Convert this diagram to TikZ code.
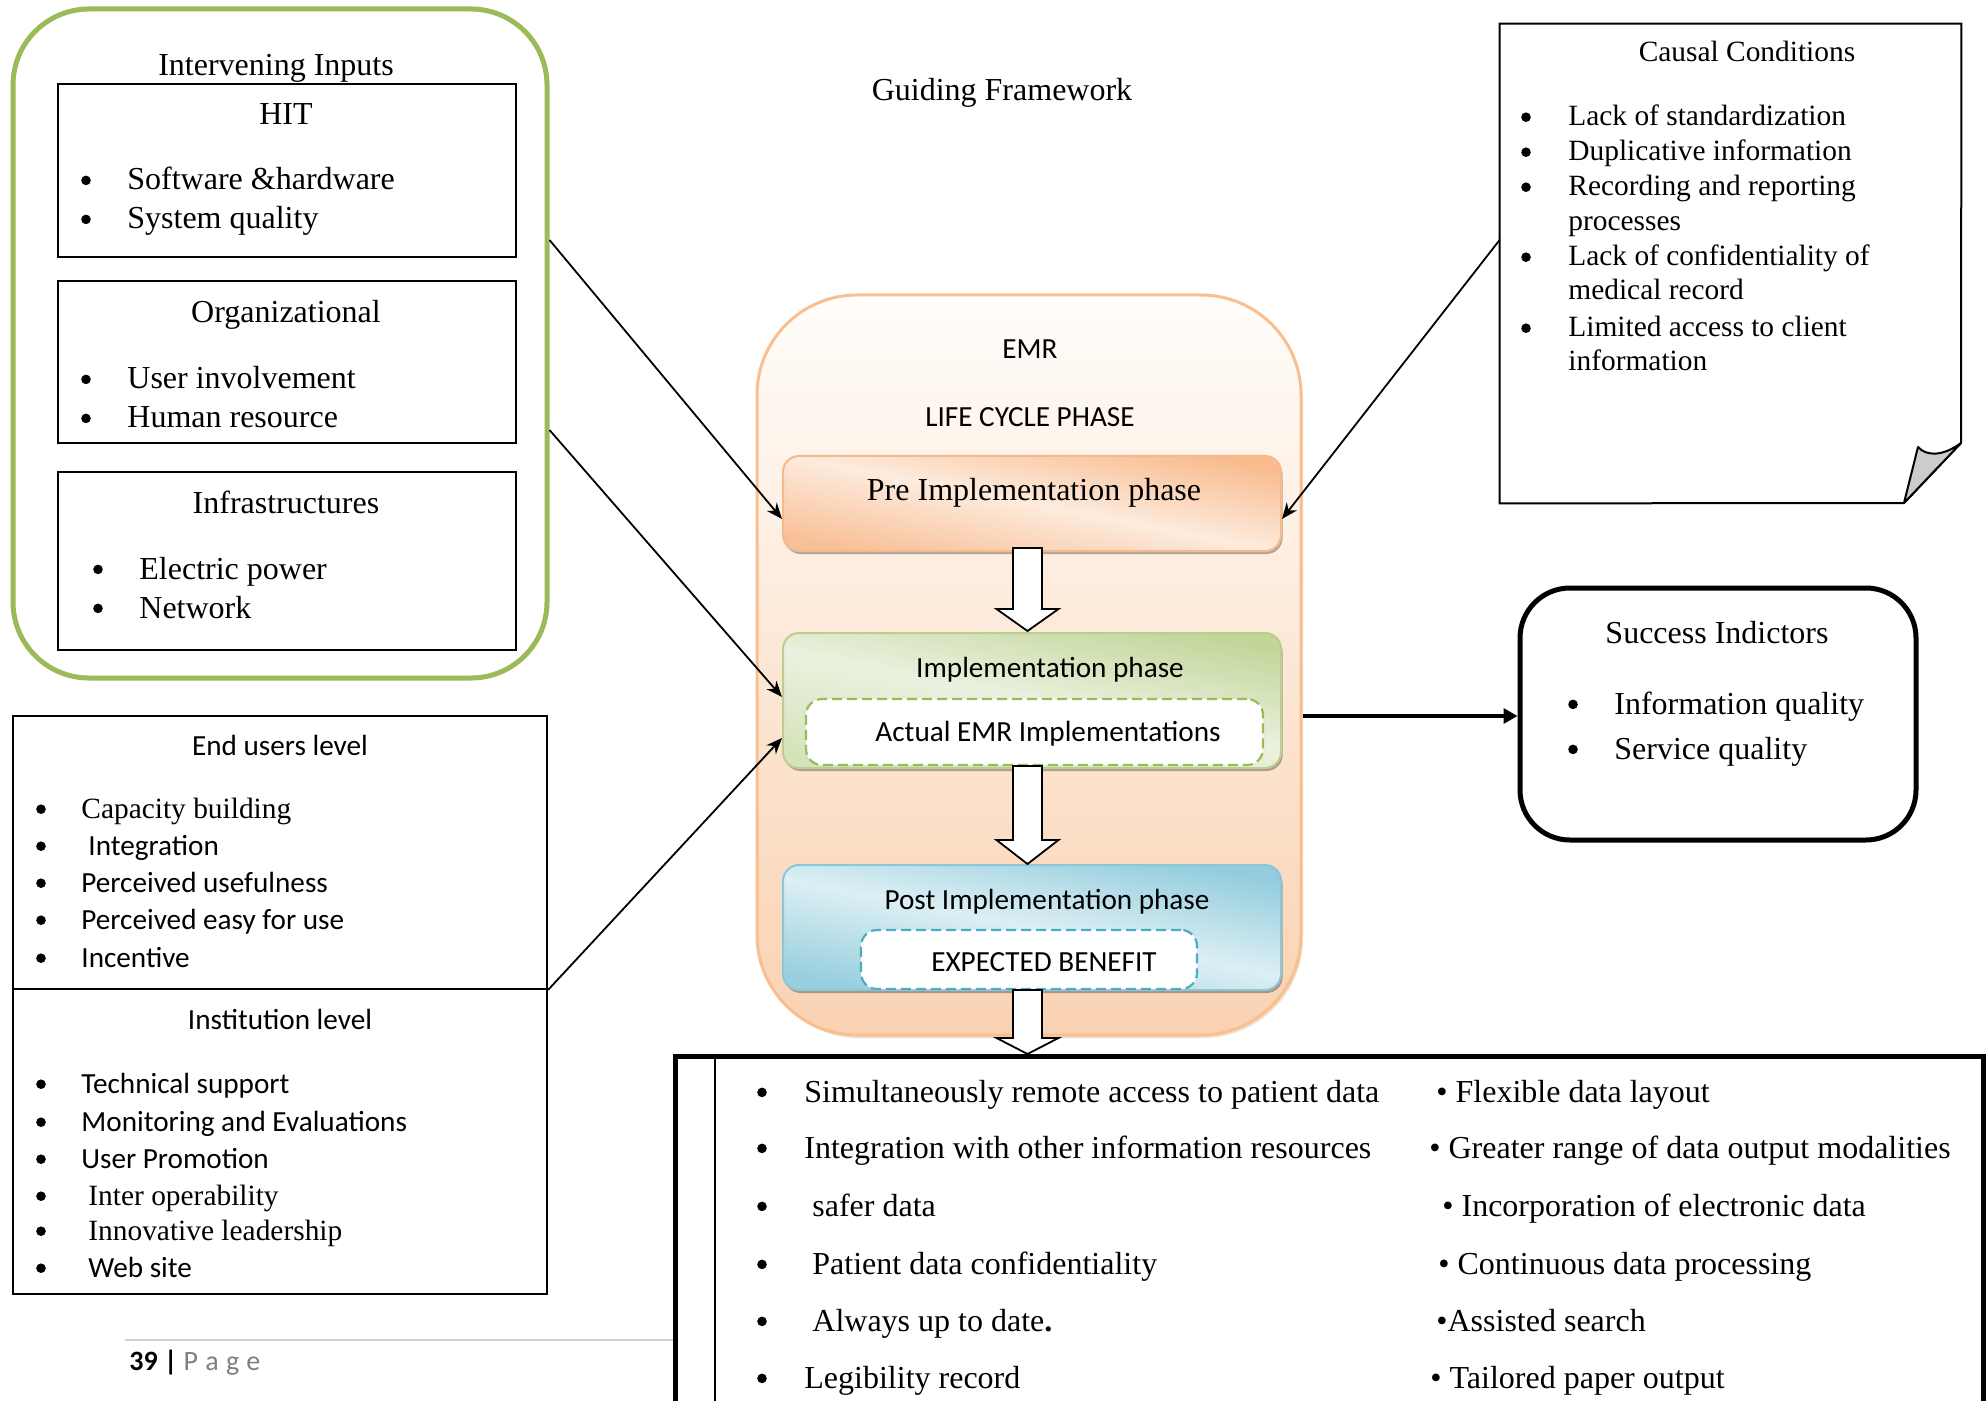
\documentclass[tikz,border=0pt]{standalone}
\usepackage{fontspec}
\setmainfont{Liberation Serif}
\newfontfamily\calfont{Carlito}
\usetikzlibrary{arrows.meta,shadows,fit}
\definecolor{grnB}{HTML}{9BBB59}
\definecolor{emrB}{HTML}{F9BF8F}
\definecolor{emrT}{HTML}{FFFDFB}
\definecolor{emrBot}{HTML}{FAD2B2}
\definecolor{preB}{HTML}{F6BA8A}
\definecolor{preT}{HTML}{F8BC8F}
\definecolor{preM}{HTML}{FDEBDD}
\definecolor{preBot}{HTML}{F8C097}
\definecolor{impB}{HTML}{B9CF8D}
\definecolor{impT}{HTML}{C2D69A}
\definecolor{impM}{HTML}{EBF1DF}
\definecolor{impBot}{HTML}{D5E3BA}
\definecolor{posB}{HTML}{8CC7D7}
\definecolor{posT}{HTML}{93CDDD}
\definecolor{posM}{HTML}{DCEFF4}
\definecolor{posBot}{HTML}{98CFDE}
\definecolor{dashG}{HTML}{9BBB59}
\definecolor{dashB}{HTML}{4BACC6}
\definecolor{pagegray}{HTML}{7F7F7F}
\newcommand\fTL{\fontsize{16}{19}\selectfont}
\newcommand\fTS{\fontsize{14.7}{17}\selectfont}
\newcommand\fC{\calfont\fontsize{14.6}{17}\selectfont}
\newcommand\fF{\calfont\fontsize{14}{17}\selectfont}
\newcommand\bitem[7]{%
  \node[bul,yshift=#7] (#1b) at (#2,#4) {};
  \node[txt] (#1) at (#3,#4) {#5#6};}
\begin{document}
\begin{tikzpicture}[x=0.5pt,y=-0.5pt,
  txt/.style={inner sep=0pt,anchor=base west},
  ctxt/.style={inner sep=0pt,anchor=base},
  bul/.style={circle,fill=black,inner sep=0pt,minimum size=4.8pt},
  bbox/.style={draw,line width=1pt,inner sep=0pt},
  phase/.style={inner sep=0pt,rounded corners=8pt,line width=1pt,
    drop shadow={shadow xshift=0.8pt,shadow yshift=-1.5pt,fill=black,opacity=0.3}},
  dbox/.style={inner sep=0pt,rounded corners=8pt,line width=1.1pt,fill=white,
    dash pattern=on 5pt off 2.5pt},
  conn/.style={line width=0.9pt,-{Stealth[length=8pt,width=6.5pt]}},
  blk/.style={draw,line width=0.9pt,fill=white,line join=miter}]
\useasboundingbox (0,0) rectangle (1986,1401);
\fill[white] (0,0) rectangle (1986,1401);

% ---------- Intervening inputs ----------
\node[fit={(13,9) (547,678)},inner sep=0pt,draw=grnB,line width=2.5pt,rounded corners=38pt] (green) {};
\node[ctxt] (tII) at (276,76) {\fTL Intervening Inputs};
\node[fit={(58,84) (516,257)},bbox] (hit) {};
\node[ctxt] (tHIT) at (286,125) {\fTL HIT};
\bitem{h1}{86}{127}{190}{\fTL}{Software \&hardware}{4.8pt}
\bitem{h2}{86}{127}{229}{\fTL}{System quality}{4.8pt}
\node[fit={(58,281) (516,443)},bbox] (org) {};
\node[ctxt] (tOrg) at (286,323) {\fTL Organizational};
\bitem{o1}{86}{127}{389}{\fTL}{User involvement}{4.8pt}
\bitem{o2}{86}{127}{428}{\fTL}{Human resource}{4.8pt}
\node[fit={(58,472) (516,650)},bbox] (inf) {};
\node[ctxt] (tInf) at (286,513) {\fTL Infrastructures};
\bitem{i1}{98}{139}{579}{\fTL}{Electric power}{4.8pt}
\bitem{i2}{98}{139}{618}{\fTL}{Network}{4.8pt}

% ---------- Title ----------
\node[ctxt] (title) at (1002,101) {\fTL Guiding Framework};

% ---------- Causal conditions ----------
\node[fit={(1500,24) (1961,503)},inner sep=0pt] (causal) {};
\draw[line width=1pt,fill=white] (causal.north west) -- (causal.north east) -- (1961,443) -- (1904,503) -- (causal.south west) -- cycle;
\draw[line width=1pt,fill=black!20,line join=round] (1904,503) -- (1918,447) .. controls (1926,456) and (1942,457) .. (1961,443) -- cycle;
\node[ctxt] (tCau) at (1747,62) {\fTS Causal Conditions};
\bitem{c1}{1526}{1568}{126}{\fTS}{Lack of standardization}{4.4pt}
\bitem{c2}{1526}{1568}{161}{\fTS}{Duplicative information}{4.4pt}
\bitem{c3}{1526}{1568}{196}{\fTS}{Recording and reporting}{4.4pt}
\node[txt] (c3x) at (1568,231) {\fTS processes};
\bitem{c4}{1526}{1568}{266}{\fTS}{Lack of confidentiality of}{4.4pt}
\node[txt] (c4x) at (1568,300) {\fTS medical record};
\bitem{c5}{1526}{1568}{337}{\fTS}{Limited access to client}{4.4pt}
\node[txt] (c5x) at (1568,371) {\fTS information};

% ---------- EMR life cycle ----------
\node[fit={(757,295) (1301,1035)},inner sep=0pt,draw=emrB,line width=1.5pt,rounded corners=50pt,
  top color=emrT,bottom color=emrBot,
  drop shadow={shadow xshift=1pt,shadow yshift=-1.5pt,fill=brown,opacity=0.25}] (emr) {};
\node[ctxt] (tEMR) at (1030,359) {\fC EMR};
\node[ctxt] (tLC) at (1030,427) {\fC LIFE CYCLE PHASE};

\node[fit={(783,456) (1281,551)},phase,draw=preB,
  top color=preT,bottom color=preBot,middle color=preM,shading angle=-11] (pre) {};
\node[ctxt] (tPre) at (1034,501) {\fTL Pre Implementation phase};

\node[fit={(783,633) (1281,768)},phase,draw=impB,
  top color=impT,bottom color=impBot,middle color=impM,shading angle=-11] (impl) {};
\node[ctxt] (tImp) at (1050,677) {\fC Implementation phase};
\node[fit={(806,699) (1263,765)},dbox,draw=dashG] (actual) {};
\node[ctxt] (tAct) at (1048,741) {\fC Actual EMR Implementations};

\node[fit={(783,865) (1281,990)},phase,draw=posB,
  top color=posT,bottom color=posBot,middle color=posM,shading angle=-11] (post) {};
\node[ctxt] (tPost) at (1047,909) {\fC Post Implementation phase};
\node[fit={(861,930) (1197,989)},dbox,draw=dashB] (exp) {};
\node[ctxt] (tExp) at (1044,971) {\fC EXPECTED BENEFIT};

% block arrows
\draw[blk] (1013,548) -- (1042,548) -- (1042,609) -- (1058.5,609) -- (1027.5,631) -- (996.5,609) -- (1013,609) -- cycle;
\draw[blk] (1013,766) -- (1042,766) -- (1042,840) -- (1058.5,840) -- (1027.5,864) -- (996.5,840) -- (1013,840) -- cycle;
\draw[blk] (1013,990) -- (1042,990) -- (1042,1038) -- (1058.5,1038) -- (1027.5,1054) -- (996.5,1038) -- (1013,1038) -- cycle;

% ---------- Success indicators ----------
\node[fit={(1520,588) (1916,840)},inner sep=0pt,draw,line width=2.5pt,rounded corners=25pt] (succ) {};
\node[ctxt] (tSuc) at (1717,643) {\fTL Success Indictors};
\bitem{s1}{1573}{1614}{714}{\fTL}{Information quality}{4.8pt}
\bitem{s2}{1573}{1614}{759}{\fTL}{Service quality}{4.8pt}

% ---------- End users / institution ----------
\node[fit={(13,716) (547,989)},bbox] (endu) {};
\node[fit={(13,989) (547,1294)},bbox] (inst) {};
\node[ctxt] (tEnd) at (280,755) {\fC End users level};
\bitem{e1}{41}{81}{818}{\fTS}{Capacity building}{4.4pt}
\bitem{e2}{41}{88}{855}{\fC}{Integration}{4.4pt}
\bitem{e3}{41}{81}{892}{\fC}{Perceived usefulness}{4.4pt}
\bitem{e4}{41}{81}{929}{\fC}{Perceived easy for use}{4.4pt}
\bitem{e5}{41}{81}{967}{\fC}{Incentive}{4.4pt}
\node[ctxt] (tIns) at (280,1029) {\fC Institution level};
\bitem{n1}{41}{81}{1093}{\fC}{Technical support}{4.4pt}
\bitem{n2}{41}{81}{1131}{\fC}{Monitoring and Evaluations}{4.4pt}
\bitem{n3}{41}{81}{1168}{\fC}{User Promotion}{4.4pt}
\bitem{n4}{41}{88}{1205}{\fTS}{Inter operability}{4.4pt}
\bitem{n5}{41}{88}{1240}{\fTS}{Innovative leadership}{4.4pt}
\bitem{n6}{41}{88}{1277}{\fC}{Web site}{4.4pt}

% ---------- footer ----------
\draw[black!18,line width=0.7pt] (125,1340) -- (673,1340);
\node[txt] (pg) at (129,1370) {\fF\textbf{39 |} \textcolor{pagegray}{P\hspace{3.6pt}a\hspace{3.6pt}g\hspace{3.6pt}e}};

% ---------- expected benefits box ----------
\draw[line width=2.5pt] (675,1460) -- (675,1056) -- (1983,1056) -- (1983,1460);
\draw[line width=0.8pt] (715,1057) -- (715,1460);
\bitem{b1}{762}{804}{1102}{\fTL}{Simultaneously remote access to patient data}{4.8pt}
\bitem{b2}{762}{804}{1158}{\fTL}{Integration with other information resources}{4.8pt}
\bitem{b3}{762}{812}{1216}{\fTL}{safer data}{4.8pt}
\bitem{b4}{762}{812}{1274}{\fTL}{Patient data confidentiality}{4.8pt}
\bitem{b5}{762}{812}{1331}{\fTL}{Always up to date\textbf{.}}{4.8pt}
\bitem{b6}{762}{804}{1388}{\fTL}{Legibility record}{4.8pt}
\node[txt] (r1) at (1436,1102) {\fTL • Flexible data layout};
\node[txt] (r2) at (1429,1158) {\fTL • Greater range of data output modalities};
\node[txt] (r3) at (1442,1216) {\fTL • Incorporation of electronic data};
\node[txt] (r4) at (1438,1274) {\fTL • Continuous data processing};
\node[txt] (r5) at (1436,1331) {\fTL •Assisted search};
\node[txt] (r6) at (1430,1388) {\fTL • Tailored paper output};

% ---------- connectors ----------
\coordinate (ya) at (0,240);
\coordinate (yb) at (0,519);
\coordinate (yc) at (0,430);
\coordinate (yd) at (0,697);
\coordinate (ye) at (0,738);
\coordinate (yf) at (0,716);
\draw[conn] (green.east |- ya) -- (pre.west |- yb);
\draw[conn] (green.east |- yc) -- (impl.west |- yd);
\draw[conn] (endu.south east) -- (impl.west |- ye);
\draw[conn] (causal.west |- ya) -- (pre.east |- yb);
\draw[line width=1.6pt,-{Triangle[length=7pt,width=7.5pt]}] (emr.east |- yf) -- (succ.west |- yf);
\end{tikzpicture}
\end{document}
